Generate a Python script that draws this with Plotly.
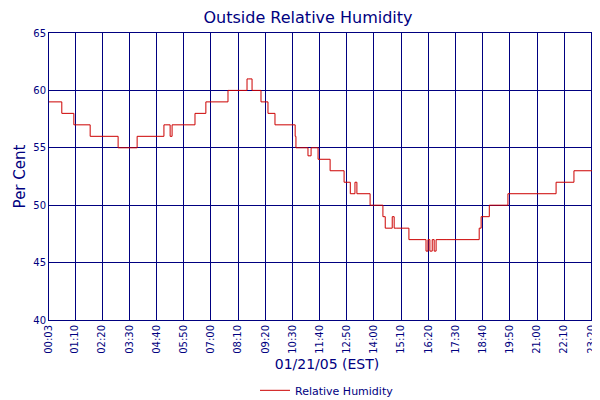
import plotly.graph_objects as go

# step changes: (time, relative humidity %)
times = ["00:03", "00:36", "01:07", "01:49", "03:01", "03:50", "04:59", "05:02", "05:15",
         "05:20", "05:25", "06:19", "06:47", "07:44", "08:33", "08:36", "08:46", "09:09",
         "09:27", "09:45", "10:37", "10:39", "10:47", "11:10", "11:18", "11:23", "11:36",
         "11:41", "12:07", "12:43", "12:59", "13:11", "13:16", "13:50", "13:58", "14:23",
         "14:29", "14:47", "14:52", "14:57", "15:30", "16:14", "16:19", "16:24", "16:30",
         "16:35", "16:40", "17:08", "18:31", "18:36", "18:57", "19:45", "21:49", "22:35", "23:55"]
humidity = [59, 58, 57, 56, 55, 56, 57, 57, 56,
            57, 57, 58, 59, 60, 61, 61, 60, 59,
            58, 57, 56, 55, 55, 54.3, 55, 55, 54,
            54, 53, 52, 51, 52, 51, 50, 50, 49,
            48, 49, 48, 48, 47, 46, 47, 46, 47,
            46, 47, 47, 48, 49, 50, 51, 52, 53, 53]
tick_labels = ["00:03", "01:10", "02:20", "03:30", "04:40", "05:50", "07:00", "08:10",
               "09:20", "10:30", "11:40", "12:50", "14:00", "15:10", "16:20", "17:30",
               "18:40", "19:50", "21:00", "22:10", "23:20", "23:55"]


def to_min(t):
    h, m = t.split(":")
    return int(h) * 60 + int(m)


navy = "#000080"
fig = go.Figure()
fig.add_trace(go.Scatter(x=[to_min(t) for t in times], y=humidity, mode="lines",
                         line=dict(color="#cc0000", width=1, shape="hv"),
                         name="Relative Humidity"))

fig.update_layout(
    width=600, height=400,
    margin=dict(l=41, r=3, t=25, b=82),
    plot_bgcolor="white", paper_bgcolor="white",
    font=dict(family="DejaVu Sans", color=navy, size=10),
    title=dict(text="Outside Relative Humidity", x=0.5, xanchor="center", y=0.99, yanchor="top",
               font=dict(size=16, color=navy)),
    showlegend=True,
    legend=dict(orientation="h", x=0.5, xanchor="center", y=-0.245, yanchor="middle",
                font=dict(size=11, color=navy)),
)
fig.update_xaxes(range=[to_min("00:03"), to_min("23:55")], automargin=False,
                 tickvals=[to_min(t) for t in tick_labels], ticktext=tick_labels,
                 tickangle=-90, tickfont=dict(size=10),
                 showgrid=True, gridcolor=navy, gridwidth=1,
                 showline=True, linecolor=navy, mirror=True, zeroline=False,
                 title=dict(text="01/21/05 (EST)", font=dict(size=14, color=navy), standoff=6))
fig.update_yaxes(range=[40, 65], dtick=5, tickfont=dict(size=10), automargin=False,
                 showgrid=True, gridcolor=navy, gridwidth=1,
                 showline=True, linecolor=navy, mirror=True, zeroline=False,
                 title=dict(text="Per Cent", font=dict(size=15, color=navy), standoff=4))

fig.write_html("out.html")
